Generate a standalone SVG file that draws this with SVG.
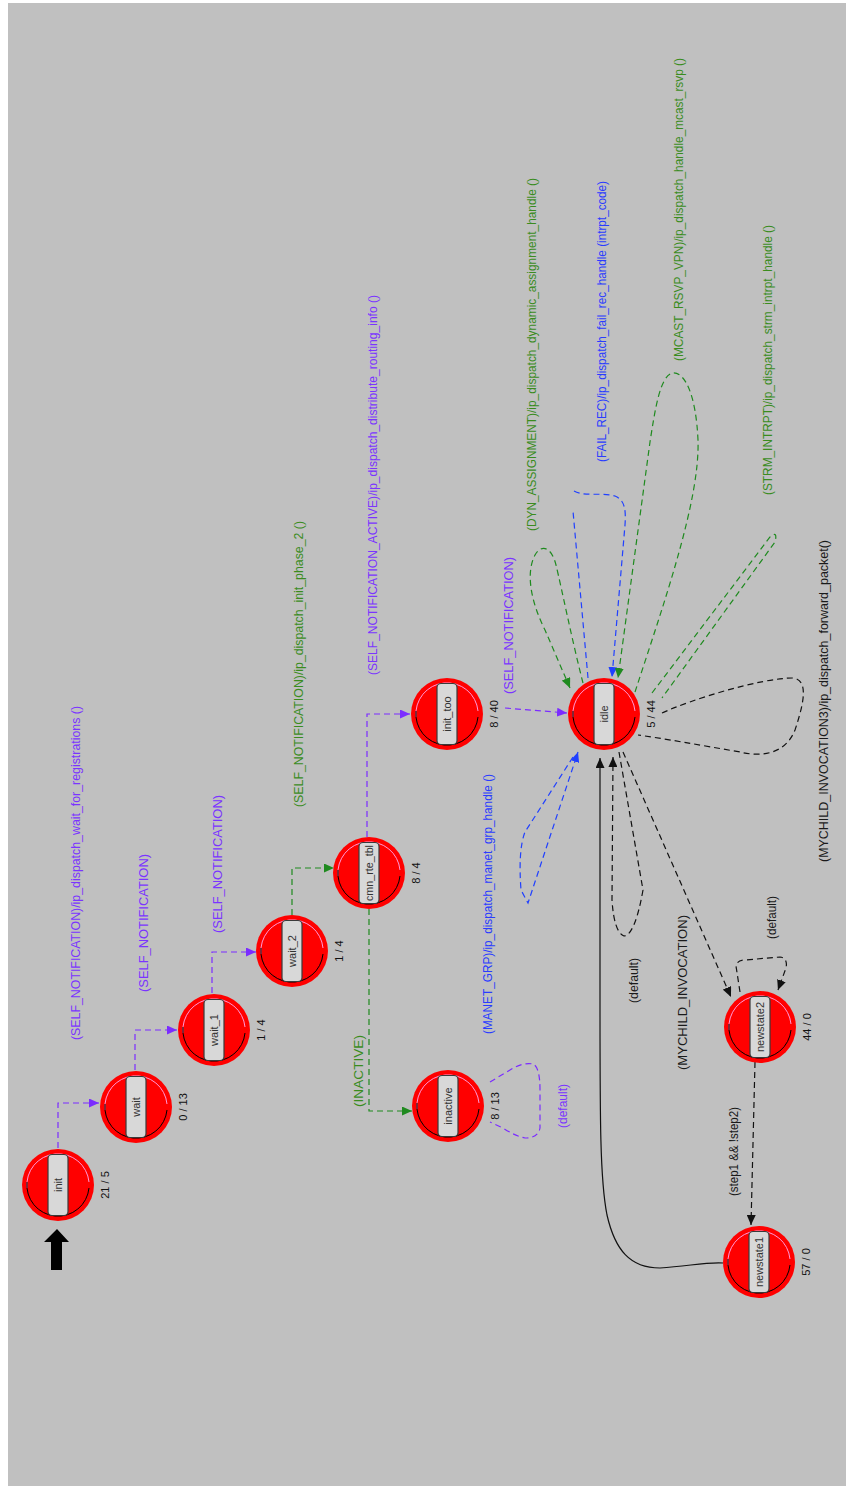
<svg xmlns="http://www.w3.org/2000/svg" xmlns:xlink="http://www.w3.org/1999/xlink" width="846" height="1486" viewBox="0 0 846 1486">
<style>
.lbl{font-family:"Liberation Sans",Arial,sans-serif;font-size:12px}
.pur{fill:#7b34ff}
.grn{fill:#3a8c1e}
.blu{fill:#2a3cff}
.blk{fill:#1a1a1a}
.cnt{font-family:"Liberation Sans",Arial,sans-serif;font-size:11px;fill:#111;text-anchor:middle}
.nm{font-family:"Liberation Sans",Arial,sans-serif;font-size:11px;fill:#333;text-anchor:middle}
.e{fill:none;stroke-width:1.2;stroke-dasharray:6 4}
.ep{stroke:#7b2cff}
.eg{stroke:#1f8a1f}
.eb{stroke:#2040ff}
.ek{stroke:#111}
</style>
<defs>
<marker id="ap" markerUnits="userSpaceOnUse" markerWidth="11" markerHeight="9" refX="10" refY="4.5" orient="auto"><path d="M0,0 L10,4.5 L0,9 z" fill="#7b2cff"/></marker>
<marker id="ag" markerUnits="userSpaceOnUse" markerWidth="11" markerHeight="9" refX="10" refY="4.5" orient="auto"><path d="M0,0 L10,4.5 L0,9 z" fill="#1f8a1f"/></marker>
<marker id="ab" markerUnits="userSpaceOnUse" markerWidth="11" markerHeight="9" refX="10" refY="4.5" orient="auto"><path d="M0,0 L10,4.5 L0,9 z" fill="#2040ff"/></marker>
<marker id="ak" markerUnits="userSpaceOnUse" markerWidth="11" markerHeight="9" refX="10" refY="4.5" orient="auto"><path d="M0,0 L10,4.5 L0,9 z" fill="#111"/></marker>
<g id="st">
<circle r="36" fill="#ff0000"/>
<path d="M-31,3 A31,31 0 0 1 31,-3" fill="none" stroke="#ff9ad8" stroke-width="1"/>
<path d="M-31,-3 A31,31 0 0 0 31,3" fill="none" stroke="#000" stroke-width="1"/>
<rect x="-10" y="-30.5" width="20" height="61" rx="4" fill="#d8d8d8" stroke="#3a3a3a" stroke-width="1.2"/>
</g>
</defs>
<rect width="846" height="1486" fill="#ffffff"/>
<rect x="8" y="3" width="838" height="1483" fill="#c0c0c0"/>

<g id="connectors">
<path class="e ep" d="M58,1148 V1103 H99" marker-end="url(#ap)"/>
<path class="e ep" d="M135,1070 V1030 H177" marker-end="url(#ap)"/>
<path class="e ep" d="M212,993 V952 H256" marker-end="url(#ap)"/>
<path class="e eg" d="M292,915 V868 H334" marker-end="url(#ag)"/>
<path class="e ep" d="M367,837 V714 H410" marker-end="url(#ap)"/>
<path class="e eg" d="M369,909 V1111 H412" marker-end="url(#ag)"/>
<path class="e ep" d="M490,1082 L510,1070 Q523,1062 533,1064 Q540,1067 540,1090 L540,1128 Q538,1138 525,1138 Q515,1136 503,1128 L490,1122"/>
<path class="e ep" d="M505,708 L567,713" marker-end="url(#ap)"/>
<path class="e eg" d="M583,683 C572,640 562,590 556,565 C552,548 542,543 535,555 C526,572 530,600 545,630 L570,688" marker-end="url(#ag)"/>
<path class="e eb" d="M588,678 L573,511"/>
<path class="e eb" d="M574,491 C585,497 600,492 615,496 C625,500 626,510 625,525 L612,677" marker-end="url(#ab)"/>
<path class="e eg" d="M635,692 C665,600 700,500 698,440 C696,395 685,372 673,373 C660,375 655,410 650,442 L618,678" marker-end="url(#ag)"/>
<path class="e eg" d="M652,693 L770,537 Q778,530 775,542 L662,698"/>
<path class="e ek" d="M662,713 C690,700 760,678 793,678 C808,680 805,700 795,730 C785,755 760,757 740,752 C700,745 660,738 638,735"/>
<path class="e eb" d="M573,757 L525,832 Q518,850 521,890 L528,903 L578,752" marker-end="url(#ab)"/>
<path class="e ek" d="M619,752 L643,890 Q635,935 624,936 Q614,932 612,900 L613,757" marker-end="url(#ak)"/>
<path class="e ek" d="M623,752 L731,997" marker-end="url(#ak)"/>
<path class="e ek" d="M740,992 L736,966 Q737,960 745,960 L780,957 Q788,958 786,968 L778,990" marker-end="url(#ak)"/>
<path class="e ek" d="M755,1062 L751,1225" marker-end="url(#ak)"/>
<path fill="none" stroke="#111" stroke-width="1.2" d="M723,1263 C705,1262 690,1266 660,1268 C630,1268 615,1250 607,1215 C600,1180 600,1120 600,1000 L600,758" marker-end="url(#ak)"/>
<path d="M57,1229 L69,1242 L62,1242 L62,1270 L51,1270 L51,1242 L44,1242 z" fill="#000"/>
</g>

<g id="labels">
<text class="lbl pur" transform="translate(79.5,1040) rotate(-90)" textLength="334" lengthAdjust="spacingAndGlyphs">(SELF_NOTIFICATION)/ip_dispatch_wait_for_registrations ()</text>
<text class="lbl pur" transform="translate(147.5,992) rotate(-90)" textLength="138" lengthAdjust="spacingAndGlyphs">(SELF_NOTIFICATION)</text>
<text class="lbl pur" transform="translate(221.5,933) rotate(-90)" textLength="138" lengthAdjust="spacingAndGlyphs">(SELF_NOTIFICATION)</text>
<text class="lbl grn" transform="translate(302.5,807) rotate(-90)" textLength="286" lengthAdjust="spacingAndGlyphs">(SELF_NOTIFICATION)/ip_dispatch_init_phase_2 ()</text>
<text class="lbl pur" transform="translate(376.5,675) rotate(-90)" textLength="380" lengthAdjust="spacingAndGlyphs">(SELF_NOTIFICATION_ACTIVE)/ip_dispatch_distribute_routing_info ()</text>
<text class="lbl grn" transform="translate(362.5,1107) rotate(-90)" textLength="72" lengthAdjust="spacingAndGlyphs">(INACTIVE)</text>
<text class="lbl pur" transform="translate(566.5,1128) rotate(-90)" textLength="44" lengthAdjust="spacingAndGlyphs">(default)</text>
<text class="lbl pur" transform="translate(512.5,694) rotate(-90)" textLength="137" lengthAdjust="spacingAndGlyphs">(SELF_NOTIFICATION)</text>
<text class="lbl grn" transform="translate(536,531) rotate(-90)" textLength="353" lengthAdjust="spacingAndGlyphs">(DYN_ASSIGNMENT)/ip_dispatch_dynamic_assignment_handle ()</text>
<text class="lbl blu" transform="translate(606,462) rotate(-90)" textLength="281" lengthAdjust="spacingAndGlyphs">(FAIL_REC)/ip_dispatch_fail_rec_handle (intrpt_code)</text>
<text class="lbl grn" transform="translate(683,361) rotate(-90)" textLength="303" lengthAdjust="spacingAndGlyphs">(MCAST_RSVP_VPN)/ip_dispatch_handle_mcast_rsvp ()</text>
<text class="lbl grn" transform="translate(771.5,495) rotate(-90)" textLength="270" lengthAdjust="spacingAndGlyphs">(STRM_INTRPT)/ip_dispatch_strm_intrpt_handle ()</text>
<text class="lbl blk" transform="translate(827.5,862) rotate(-90)" textLength="322" lengthAdjust="spacingAndGlyphs">(MYCHILD_INVOCATION3)/ip_dispatch_forward_packet()</text>
<text class="lbl blu" transform="translate(491.5,1034) rotate(-90)" textLength="260" lengthAdjust="spacingAndGlyphs">(MANET_GRP)/ip_dispatch_manet_grp_handle ()</text>
<text class="lbl blk" transform="translate(637.5,1003) rotate(-90)" textLength="45" lengthAdjust="spacingAndGlyphs">(default)</text>
<text class="lbl blk" transform="translate(686.5,1070) rotate(-90)" textLength="155" lengthAdjust="spacingAndGlyphs">(MYCHILD_INVOCATION)</text>
<text class="lbl blk" transform="translate(775.5,939) rotate(-90)" textLength="43" lengthAdjust="spacingAndGlyphs">(default)</text>
<text class="lbl blk" transform="translate(737.5,1196) rotate(-90)" textLength="89" lengthAdjust="spacingAndGlyphs">(step1 &amp;&amp; !step2)</text>
</g>

<g id="node-init"><use href="#st" x="58" y="1185"/><text class="nm" transform="translate(62,1185) rotate(-90)">init</text><text class="cnt" transform="translate(109,1185) rotate(-90)">21 / 5</text></g>
<g id="node-wait"><use href="#st" x="136" y="1107"/><text class="nm" transform="translate(140,1107) rotate(-90)">wait</text><text class="cnt" transform="translate(187,1107) rotate(-90)">0 / 13</text></g>
<g id="node-wait_1"><use href="#st" x="214" y="1030"/><text class="nm" transform="translate(218,1030) rotate(-90)">wait_1</text><text class="cnt" transform="translate(265,1030) rotate(-90)">1 / 4</text></g>
<g id="node-wait_2"><use href="#st" x="292" y="951"/><text class="nm" transform="translate(296,951) rotate(-90)">wait_2</text><text class="cnt" transform="translate(343,951) rotate(-90)">1 / 4</text></g>
<g id="node-cmn_rte_tbl"><use href="#st" x="369" y="873"/><text class="nm" transform="translate(373,873) rotate(-90)" textLength="56" lengthAdjust="spacingAndGlyphs">cmn_rte_tbl</text><text class="cnt" transform="translate(420,873) rotate(-90)">8 / 4</text></g>
<g id="node-init_too"><use href="#st" x="447" y="714"/><text class="nm" transform="translate(451,714) rotate(-90)">init_too</text><text class="cnt" transform="translate(498,714) rotate(-90)">8 / 40</text></g>
<g id="node-idle"><use href="#st" x="604" y="714"/><text class="nm" transform="translate(608,714) rotate(-90)">idle</text><text class="cnt" transform="translate(655,714) rotate(-90)">5 / 44</text></g>
<g id="node-inactive"><use href="#st" x="448" y="1106"/><text class="nm" transform="translate(452,1106) rotate(-90)">inactive</text><text class="cnt" transform="translate(499,1106) rotate(-90)">8 / 13</text></g>
<g id="node-newstate2"><use href="#st" x="760" y="1027"/><text class="nm" transform="translate(764,1027) rotate(-90)">newstate2</text><text class="cnt" transform="translate(811,1027) rotate(-90)">44 / 0</text></g>
<g id="node-newstate1"><use href="#st" x="759" y="1262"/><text class="nm" transform="translate(763,1262) rotate(-90)">newstate1</text><text class="cnt" transform="translate(810,1262) rotate(-90)">57 / 0</text></g>
</svg>
